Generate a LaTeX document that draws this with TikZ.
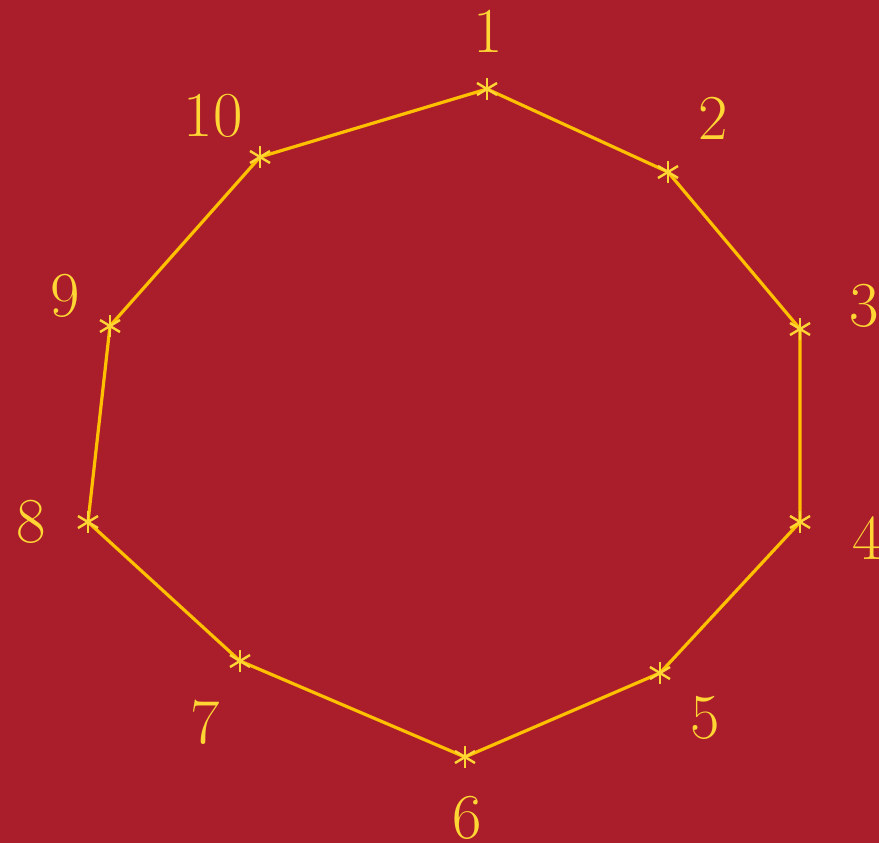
\documentclass[tikz,border=0pt]{standalone}
\usepackage{tikz}
\definecolor{bg}{RGB}{170,30,43}
\definecolor{edge}{RGB}{255,192,0}
\definecolor{lab}{RGB}{255,214,51}
\tikzset{
  edgeline/.style={draw=edge,line width=3.2pt,line join=round},
  starline/.style={draw=lab,line width=2.4pt},
  numlabel/.style={text=lab,inner sep=0pt,font=\fontsize{64}{64}\selectfont}
}
\begin{document}
\begin{tikzpicture}[x=1pt,y=-1pt]
\fill[bg] (0,0) rectangle (879,843);
\useasboundingbox (0,0) rectangle (879,843);
\coordinate (p1) at (487,89);
\coordinate (p2) at (668,172);
\coordinate (p3) at (800,329);
\coordinate (p4) at (800,522);
\coordinate (p5) at (660,673);
\coordinate (p6) at (465,757);
\coordinate (p7) at (240,661);
\coordinate (p8) at (88,522);
\coordinate (p9) at (110,326);
\coordinate (p10) at (260,157);
\draw[edgeline] (p1) -- (p2) -- (p3) -- (p4) -- (p5) -- (p6) -- (p7) -- (p8) -- (p9) -- (p10) -- cycle;
\foreach \i in {1,...,10}{
  \draw[starline] ([yshift=-11pt]p\i) -- ([yshift=11pt]p\i);
  \draw[starline] ([shift={(-10pt,-6pt)}]p\i) -- ([shift={(10pt,6pt)}]p\i);
  \draw[starline] ([shift={(-10pt,6pt)}]p\i) -- ([shift={(10pt,-6pt)}]p\i);
}
\node[numlabel] (l1) at (488,31) {1};
\node[numlabel] (l2) at (713,118) {2};
\node[numlabel] (l3) at (864,306) {3};
\node[numlabel] (l4) at (867,538) {4};
\node[numlabel] (l5) at (705,718) {5};
\node[numlabel] (l6) at (467,818) {6};
\node[numlabel] (l7) at (205,722) {7};
\node[numlabel] (l8) at (31,522) {8};
\node[numlabel] (l9) at (65,296) {9};
\node[numlabel] (l10) at (213,116) {10};
\end{tikzpicture}
\end{document}
